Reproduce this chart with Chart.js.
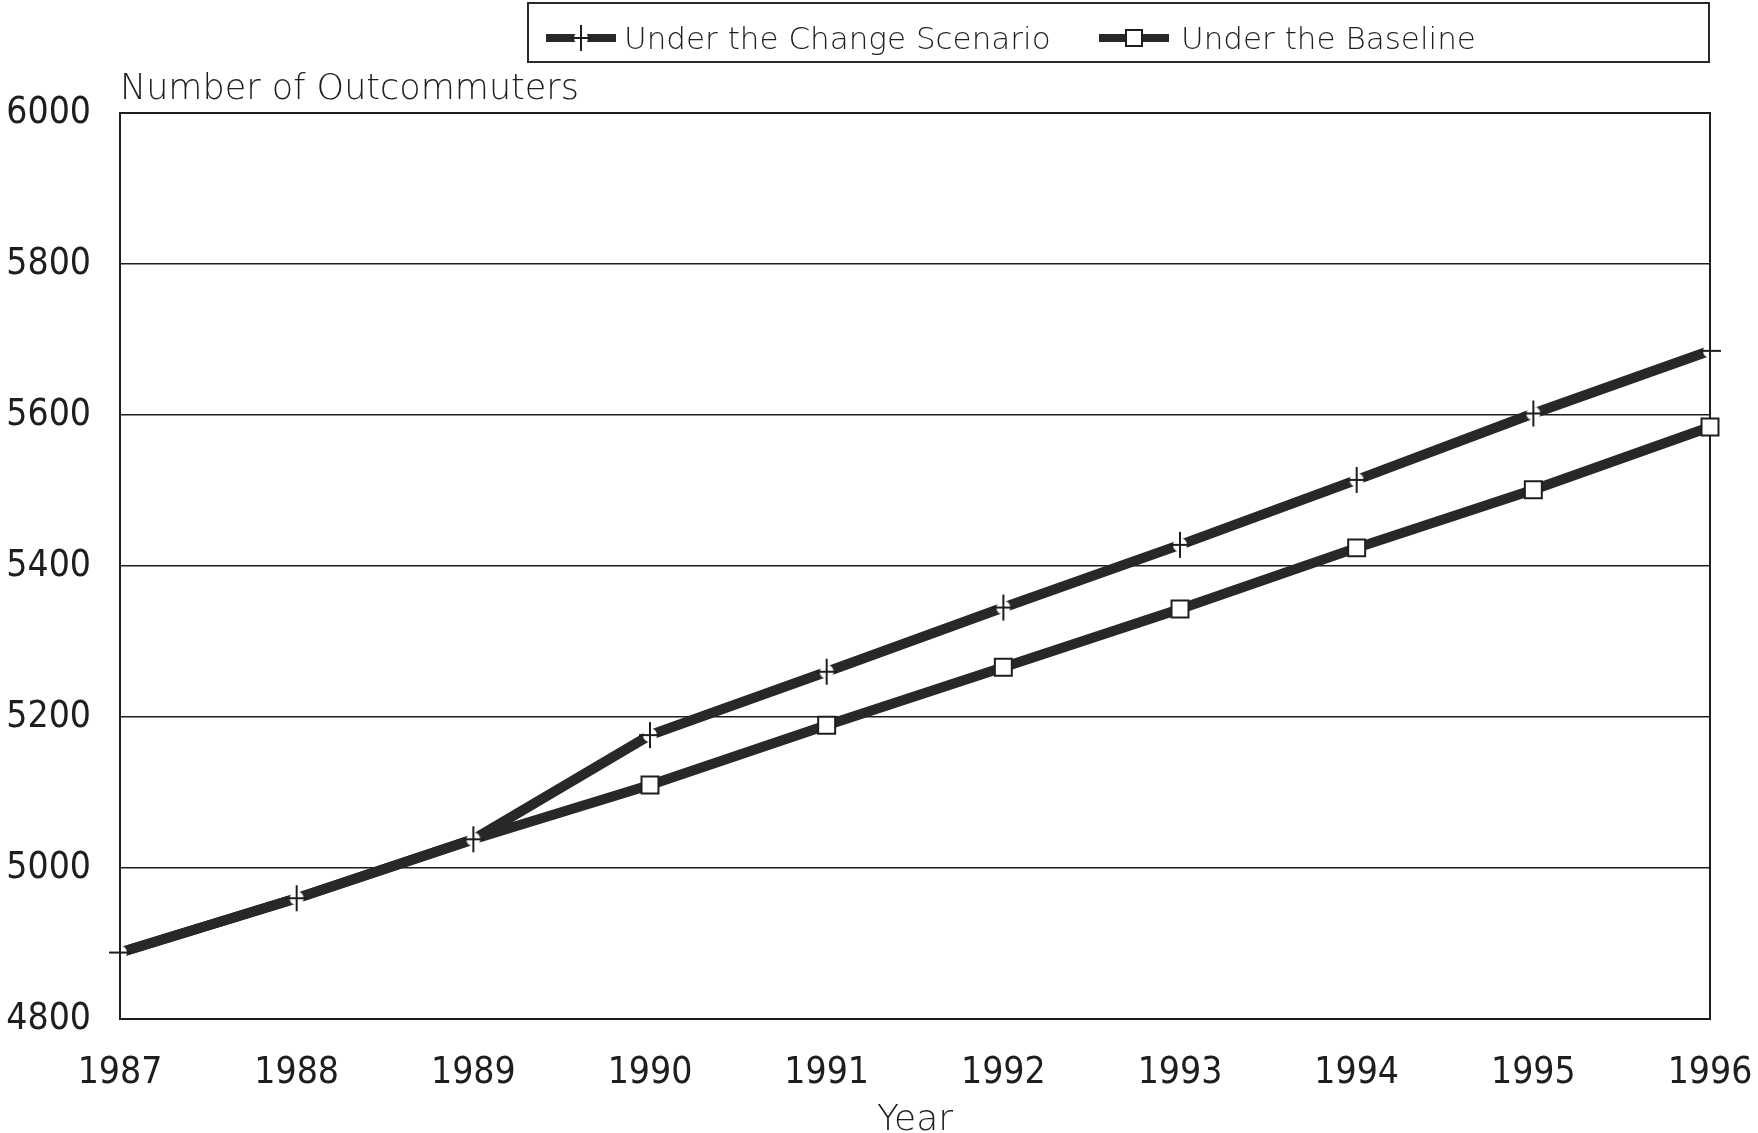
<!DOCTYPE html>
<html>
<head>
<meta charset="utf-8">
<script src="https://cdn.jsdelivr.net/npm/chart.js@4.4.0/dist/chart.umd.min.js"></script>
<style>
  body { margin: 0; background: #fff; }
  #wrap { position: relative; width: 1758px; height: 1133px; }
  #legend { position: absolute; left: 527px; top: 2px; width: 1179px; height: 57px; border: 2px solid #2a2a2a; }
  #legend canvas, #legend span { position: absolute; }
  #legend span { font: 200 31px "DejaVu Sans"; line-height: 36px; color: #1e1e1e; top: 16px; white-space: nowrap; }
</style>
</head>
<body>
<div id="wrap">
  <canvas id="myChart" width="1758" height="1133"></canvas>
  <div id="legend">
    <canvas id="lg1" width="70" height="26" style="left:17px;top:21px"></canvas>
    <span style="left:95px">Under the Change Scenario</span>
    <canvas id="lg2" width="70" height="26" style="left:570px;top:21px"></canvas>
    <span style="left:652px">Under the Baseline</span>
  </div>
</div>
<script>
// data
var years = ["1987", "1988", "1989", "1990", "1991", "1992", "1993", "1994", "1995", "1996"];
var changeScenario = [4888, 4960, 5038, 5176, 5260, 5345, 5428, 5514, 5602, 5685];
var baseline = [4888, 4960, 5038, 5110, 5189, 5266, 5343, 5424, 5501, 5584];
var yTicks = [4800, 5000, 5200, 5400, 5600, 5800, 6000];

var ink = "#1e1e1e";
var lineInk = "#282828";
var numFont = "'DejaVu Sans Condensed', 'Liberation Sans Narrow', 'DejaVu Sans', sans-serif";

// plus marker with a small gap in the line
function drawCross(ctx, cx, cy) {
  ctx.fillStyle = "#fff";
  ctx.beginPath();
  ctx.arc(cx, cy, 7, 0, Math.PI * 2);
  ctx.fill();
  ctx.strokeStyle = ink;
  ctx.lineWidth = 2;
  ctx.beginPath();
  ctx.moveTo(cx, cy - 13); ctx.lineTo(cx, cy + 13);
  ctx.moveTo(cx - 11, cy); ctx.lineTo(cx + 11, cy);
  ctx.stroke();
}

function drawSquare(ctx, cx, cy) {
  ctx.fillStyle = "#fff";
  ctx.fillRect(cx - 8, cy - 8, 16, 16);
  ctx.strokeStyle = ink;
  ctx.lineWidth = 2;
  ctx.strokeRect(cx - 8, cy - 8, 16, 16);
}

var crossImg = document.createElement("canvas");
crossImg.width = 30; crossImg.height = 30;
drawCross(crossImg.getContext("2d"), 15, 15);

// legend samples
function sample(id, marker) {
  var c = document.getElementById(id).getContext("2d");
  c.strokeStyle = lineInk;
  c.lineWidth = 8;
  c.beginPath(); c.moveTo(0, 13); c.lineTo(70, 13); c.stroke();
  marker(c, 35, 13);
}
sample("lg1", drawCross);
sample("lg2", drawSquare);

// plot frame
var frame = {
  id: "frame",
  beforeDatasetsDraw: function (chart) {
    var ctx = chart.ctx, a = chart.chartArea;
    ctx.save();
    ctx.strokeStyle = ink;
    ctx.lineWidth = 2;
    ctx.strokeRect(a.left, a.top, a.right - a.left, a.bottom - a.top);
    ctx.restore();
  }
};

new Chart("myChart", {
  type: "line",
  data: {
    labels: years,
    datasets: [{
      label: "Under the Change Scenario",
      data: changeScenario,
      borderColor: lineInk,
      borderWidth: 10,
      pointStyle: crossImg,
      pointRadius: 10,
      clip: false
    }, {
      label: "Under the Baseline",
      data: baseline,
      borderColor: lineInk,
      borderWidth: 10,
      pointStyle: "rect",
      pointRadius: [0, 0, 0, 12, 12, 12, 12, 12, 12, 12],
      pointBackgroundColor: "#fff",
      pointBorderColor: ink,
      pointBorderWidth: 2,
      clip: false
    }]
  },
  options: {
    responsive: false,
    devicePixelRatio: 1,
    animation: false,
    layout: { padding: { top: 62, right: 48, left: 0, bottom: 0 } },
    plugins: {
      legend: { display: false },
      tooltip: { enabled: false },
      title: {
        display: true,
        text: "Number of Outcommuters",
        align: "start",
        fullSize: false,
        color: ink,
        font: { family: "DejaVu Sans", size: 35, weight: 200, lineHeight: 1.2 },
        padding: { top: 7, bottom: 2 }
      }
    },
    scales: {
      x: {
        offset: false,
        grid: { display: false, drawTicks: false },
        border: { display: false },
        afterFit: function (s) { s.height = 114; s.paddingLeft = 0; s.paddingRight = 0; },
        ticks: {
          color: ink,
          maxRotation: 0,
          padding: 36,
          font: { family: numFont, size: 37, lineHeight: 1 }
        },
        title: {
          display: true,
          text: "Year",
          color: ink,
          font: { family: "DejaVu Sans", size: 36, weight: 200, lineHeight: 0.7 },
          padding: { top: 0, bottom: 0 }
        }
      },
      y: {
        min: 4800,
        max: 6000,
        afterBuildTicks: function (s) { s.ticks = yTicks.map(function (v) { return { value: v }; }); },
        afterFit: function (s) { s.width = 120; },
        grid: { color: ink, lineWidth: 1.5, drawTicks: false },
        border: { display: false },
        ticks: {
          color: ink,
          padding: 29,
          callback: function (v) { return String(v); },
          font: { family: numFont, size: 37 }
        }
      }
    }
  },
  plugins: [frame]
});
</script>
</body>
</html>
